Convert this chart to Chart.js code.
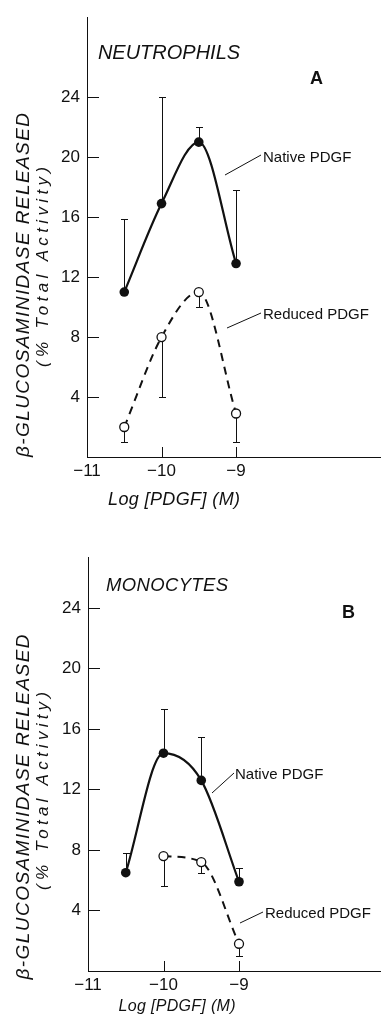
<!DOCTYPE html>
<html>
<head>
<meta charset="utf-8">
<script src="https://cdn.jsdelivr.net/npm/chart.js@4.4.1/dist/chart.umd.min.js"></script>
<style>
  html, body { margin: 0; padding: 0; background: #fff; }
  #wrap { position: relative; width: 386px; height: 1021px; }
  canvas { position: absolute; left: 0; }
  #chartA { top: 0; }
  #chartB { top: 515px; }
</style>
</head>
<body>
<div id="wrap">
  <canvas id="chartA" width="386" height="515"></canvas>
  <canvas id="chartB" width="386" height="506"></canvas>
</div>
<script>
// Log [PDGF] (M) doses and % total activity released
const dosesA = [-10.5, -10, -9.5, -9];
const nativeA = [11, 16.9, 21, 12.9];
const nativeAErrTop = [15.9, 24, 22, 17.8];
const reducedA = [2, 8, 11, 2.9];
const reducedAErrBottom = [1, 4, 10, 1];

const dosesB = [-10.5, -10, -9.5, -9];
const nativeB = [6.5, 14.4, 12.6, 5.9];
const nativeBErrTop = [7.8, 17.3, 15.5, 6.8];
const dosesBReduced = [-10, -9.5, -9];
const reducedB = [7.6, 7.2, 1.8];
const reducedBErrBottom = [5.6, 6.5, 1];

const xTickValues = [-11, -10, -9];
const xTickLabels = ['−11', '−10', '−9'];
const yTickValues = [4, 8, 12, 16, 20, 24];

const FONT = '"Liberation Sans", Arial, sans-serif';
const INK = '#111';

function pts(xs, ys) {
    return xs.map((x, i) => ({ x: x, y: ys[i] }));
}

// draw text stretched to a given width (letter spacing), centred on cx
function spacedText(ctx, text, cx, cy, width) {
    ctx.letterSpacing = '0px';
    const w = ctx.measureText(text).width;
    const sp = Math.max(0, (width - w) / (text.length - 1));
    ctx.letterSpacing = sp + 'px';
    ctx.textAlign = 'left';
    const real = w + sp * (text.length - 1);
    ctx.fillText(text, cx - real / 2, cy);
    ctx.letterSpacing = '0px';
}

// error bars (one direction only) behind the points
const errorBarPlugin = {
    id: 'errbars',
    beforeDatasetsDraw(chart, args, opts) {
        const { ctx, scales: { x, y } } = chart;
        ctx.save();
        ctx.strokeStyle = INK;
        ctx.lineWidth = 1;
        opts.sets.forEach(set => {
            set.xs.forEach((xv, i) => {
                const px = Math.round(x.getPixelForValue(xv)) + 0.5;
                const y0 = y.getPixelForValue(set.ys[i]);
                const y1 = Math.round(y.getPixelForValue(set.ends[i])) + 0.5;
                ctx.beginPath();
                ctx.moveTo(px, y0);
                ctx.lineTo(px, y1);
                ctx.moveTo(px - 3.5, y1);
                ctx.lineTo(px + 3.5, y1);
                ctx.stroke();
            });
        });
        ctx.restore();
    }
};

// inner tick marks, leader lines and all the lettering
const decorPlugin = {
    id: 'decor',
    afterDraw(chart, args, o) {
        const { ctx, chartArea, scales: { x, y } } = chart;
        ctx.save();
        ctx.strokeStyle = INK;
        ctx.lineWidth = 1;
        ctx.beginPath();
        yTickValues.forEach(v => {
            const py = Math.round(y.getPixelForValue(v)) + 0.5;
            ctx.moveTo(chartArea.left, py);
            ctx.lineTo(chartArea.left + 12, py);
        });
        xTickValues.slice(1).forEach(v => {
            const px = Math.round(x.getPixelForValue(v)) + 0.5;
            ctx.moveTo(px, chartArea.bottom);
            ctx.lineTo(px, chartArea.bottom - 10);
        });
        o.leaders.forEach(l => {
            ctx.moveTo(l[0], l[1]);
            ctx.lineTo(l[2], l[3]);
        });
        ctx.stroke();

        ctx.fillStyle = INK;
        ctx.textBaseline = 'middle';
        ctx.textAlign = 'left';

        ctx.font = 'italic ' + o.title.size + 'px ' + FONT;
        spacedText(ctx, o.title.text, o.title.x + o.title.w / 2, o.title.y, o.title.w);

        ctx.font = 'bold 18px ' + FONT;
        ctx.fillText(o.letter.text, o.letter.x, o.letter.y);

        ctx.font = '15px ' + FONT;
        o.labels.forEach(l => ctx.fillText(l.text, l.x, l.y));

        ctx.font = 'italic ' + o.xTitle.size + 'px ' + FONT;
        spacedText(ctx, 'Log [PDGF] (M)', o.xTitle.x, o.xTitle.y, o.xTitle.w);

        ctx.save();
        ctx.translate(o.yTitle.x1, o.yTitle.y1);
        ctx.rotate(-Math.PI / 2);
        ctx.font = 'italic 19px ' + FONT;
        spacedText(ctx, 'β-GLUCOSAMINIDASE RELEASED', 0, 0, o.yTitle.w1);
        ctx.restore();

        ctx.save();
        ctx.translate(o.yTitle.x2, o.yTitle.y2);
        ctx.rotate(-Math.PI / 2);
        ctx.font = 'italic 17px ' + FONT;
        spacedText(ctx, '(% Total Activity)', 0, 0, o.yTitle.w2);
        ctx.restore();

        ctx.restore();
    }
};

function nativeSet(data) {
    return {
        data: data,
        borderColor: INK,
        borderWidth: 2.2,
        cubicInterpolationMode: 'monotone',
        pointRadius: 4.8,
        pointBackgroundColor: INK,
        pointBorderColor: INK,
        pointBorderWidth: 0,
        clip: false
    };
}

function reducedSet(data) {
    return {
        data: data,
        borderColor: INK,
        borderWidth: 2,
        borderDash: [8, 6],
        cubicInterpolationMode: 'monotone',
        pointRadius: 4.5,
        pointBackgroundColor: '#fff',
        pointBorderColor: INK,
        pointBorderWidth: 1.3,
        clip: false
    };
}

function createPanel(id, datasets, errSets, lay) {
    const ctx = document.getElementById(id).getContext('2d');
    return new Chart(ctx, {
        type: 'line',
        data: { datasets: datasets },
        plugins: [errorBarPlugin, decorPlugin],
        options: {
            responsive: false,
            devicePixelRatio: 1,
            animation: false,
            events: [],
            layout: { padding: { top: lay.padTop, left: 0, right: 0, bottom: 0 } },
            plugins: {
                legend: { display: false },
                tooltip: { enabled: false },
                errbars: { sets: errSets },
                decor: lay
            },
            scales: {
                x: {
                    type: 'linear',
                    min: -11,
                    max: lay.xMax,
                    afterBuildTicks: s => { s.ticks = xTickValues.map(v => ({ value: v })); },
                    afterFit: s => { s.height = lay.xHeight; },
                    grid: { display: false, drawTicks: false },
                    border: { display: true, color: INK, width: 1 },
                    ticks: {
                        autoSkip: false,
                        maxRotation: 0,
                        padding: 4,
                        color: INK,
                        font: { family: FONT, size: 17 },
                        callback: v => xTickLabels[xTickValues.indexOf(v)]
                    }
                },
                y: {
                    type: 'linear',
                    min: 0,
                    max: lay.yMax,
                    afterBuildTicks: s => { s.ticks = yTickValues.map(v => ({ value: v })); },
                    afterFit: s => { s.width = lay.yWidth; },
                    grid: { display: false, drawTicks: false },
                    border: { display: true, color: INK, width: 1 },
                    ticks: {
                        padding: 7,
                        color: INK,
                        font: { family: FONT, size: 17 }
                    }
                }
            }
        }
    });
}

window.onload = function() {
    createPanel('chartA',
        [nativeSet(pts(dosesA, nativeA)), reducedSet(pts(dosesA, reducedA))],
        [
            { xs: dosesA, ys: nativeA, ends: nativeAErrTop },
            { xs: dosesA, ys: reducedA, ends: reducedAErrBottom }
        ],
        {
            padTop: 12, yWidth: 87, xHeight: 58, xMax: -7.066, yMax: 29.33,
            title: { text: 'NEUTROPHILS', x: 98, y: 53, w: 142, size: 20 },
            letter: { text: 'A', x: 310, y: 79 },
            labels: [
                { text: 'Native PDGF', x: 263, y: 158 },
                { text: 'Reduced PDGF', x: 263, y: 315 }
            ],
            leaders: [[225, 175, 261, 155], [227, 328, 261, 313]],
            xTitle: { x: 174, y: 500, w: 132, size: 18 },
            yTitle: { x1: 24, y1: 285, w1: 344, x2: 43, y2: 267, w2: 200 }
        });

    createPanel('chartB',
        [nativeSet(pts(dosesB, nativeB)), reducedSet(pts(dosesBReduced, reducedB))],
        [
            { xs: dosesB, ys: nativeB, ends: nativeBErrTop },
            { xs: dosesBReduced, ys: reducedB, ends: reducedBErrBottom }
        ],
        {
            padTop: 42, yWidth: 88, xHeight: 50, xMax: -7.13, yMax: 27.37,
            title: { text: 'MONOCYTES', x: 106, y: 71, w: 122, size: 18.5 },
            letter: { text: 'B', x: 342, y: 98 },
            labels: [
                { text: 'Native PDGF', x: 235, y: 260 },
                { text: 'Reduced PDGF', x: 265, y: 399 }
            ],
            leaders: [[212, 278, 234, 258], [240, 408, 263, 397]],
            xTitle: { x: 177, y: 492, w: 117, size: 16 },
            yTitle: { x1: 24, y1: 292, w1: 345, x2: 43, y2: 276, w2: 198 }
        });
};
</script>
</body>
</html>
